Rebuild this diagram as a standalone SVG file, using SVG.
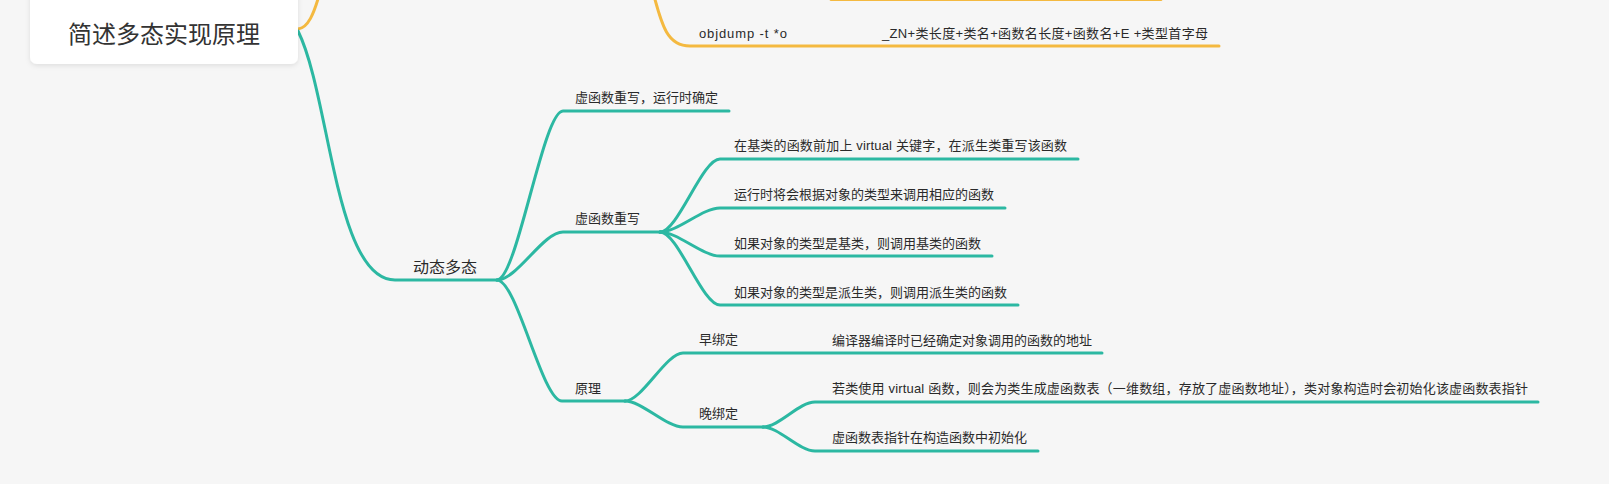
<svg xmlns="http://www.w3.org/2000/svg" width="1609" height="484" viewBox="0 0 1609 484">
<defs>
<filter id="sh" x="-10%" y="-20%" width="120%" height="150%">
<feDropShadow dx="0" dy="1.5" stdDeviation="2.5" flood-color="#000" flood-opacity="0.10"/>
</filter>
<style>
.t{font-family:"Liberation Sans","Noto Sans CJK SC",sans-serif;font-size:13px;fill:#2a2a2a}
.l1{font-size:16px}
.root{font-size:24px;fill:#333}
.c{fill:none;stroke:#2cb8a2;stroke-width:3;stroke-linecap:round}
.o{fill:none;stroke:#f4b940;stroke-width:3;stroke-linecap:round}
</style>
</defs>
<rect width="1609" height="484" fill="#f6f6f6"/>
<g id="connectors">
<path class="o" d="M298,29 C308,28 314,14 320,-8"/>
<path class="o" d="M652,-12 C662,28 668,46 690,46 L1219,46"/>
<path class="o" d="M831,-0.5 L1161,-0.5" stroke-width="2.5"/>
<path class="c" d="M298,31 C330,95 335,280 395,280 L497,280"/>
<path class="c" d="M497,280 C517,280 543,111 563,111 L729,111"/>
<path class="c" d="M497,280 C517,280 543,232 563,232 L660,232"/>
<path class="c" d="M497,280 C517,280 542,401 562,401 L625,401"/>
<path class="c" d="M660,232 C678,232 702,159 720,159 L1078,159"/>
<path class="c" d="M660,232 C678,232 702,208 720,208 L1005,208"/>
<path class="c" d="M660,232 C678,232 702,256 720,256 L992,256"/>
<path class="c" d="M660,232 C678,232 702,305 720,305 L1018,305"/>
<path class="c" d="M625,401 C642,401 666,353 683,353 L1102,353"/>
<path class="c" d="M625,401 C642,401 666,427 683,427 L763,427"/>
<path class="c" d="M763,427 C779,427 799,402 815,402 L1538,402"/>
<path class="c" d="M763,427 C779,427 799,451 815,451 L1038,451"/>
</g>
<g id="root">
<rect x="30" y="-10" width="268" height="74" rx="7" fill="#fff" filter="url(#sh)"/>
<text class="t root" x="164" y="43" text-anchor="middle">简述多态实现原理</text>
</g>
<g id="objdump"><text class="t" x="699" y="38" textLength="88" lengthAdjust="spacing">objdump -t *o</text></g>
<g id="zn"><text class="t" x="882" y="38" textLength="326" lengthAdjust="spacing">_ZN+类长度+类名+函数名长度+函数名+E +类型首字母</text></g>
<g id="dynamic"><text class="t l1" x="413" y="273">动态多态</text></g>
<g id="vf1"><text class="t" x="575" y="102">虚函数重写，运行时确定</text></g>
<g id="vf2"><text class="t" x="575" y="223">虚函数重写</text></g>
<g id="vf2a"><text class="t" x="734" y="150" textLength="333" lengthAdjust="spacing">在基类的函数前加上 virtual 关键字，在派生类重写该函数</text></g>
<g id="vf2b"><text class="t" x="734" y="199">运行时将会根据对象的类型来调用相应的函数</text></g>
<g id="vf2c"><text class="t" x="734" y="248">如果对象的类型是基类，则调用基类的函数</text></g>
<g id="vf2d"><text class="t" x="734" y="297">如果对象的类型是派生类，则调用派生类的函数</text></g>
<g id="principle"><text class="t" x="575" y="393">原理</text></g>
<g id="early"><text class="t" x="699" y="344">早绑定</text></g>
<g id="early1"><text class="t" x="832" y="345">编译器编译时已经确定对象调用的函数的地址</text></g>
<g id="late"><text class="t" x="699" y="418">晚绑定</text></g>
<g id="late1"><text class="t" x="832" y="393" textLength="696" lengthAdjust="spacing">若类使用 virtual 函数，则会为类生成虚函数表（一维数组，存放了虚函数地址），类对象构造时会初始化该虚函数表指针</text></g>
<g id="late2"><text class="t" x="832" y="442">虚函数表指针在构造函数中初始化</text></g>
</svg>
